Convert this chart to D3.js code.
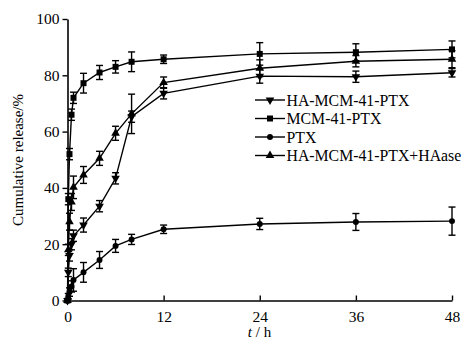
<!DOCTYPE html>
<html><head><meta charset="utf-8">
<script src="https://cdn.jsdelivr.net/npm/d3@7"></script>
<style>body{margin:0;background:#fff}svg{display:block}text{font-family:"Liberation Serif","Times New Roman",serif}</style>
</head><body><svg id="c" width="464" height="341"></svg>
<script>
const times = [0, 0.1, 0.25, 0.5, 0.75, 2, 4, 6, 8, 12, 24, 36, 48];
const seriesNames = ["HA-MCM-41-PTX", "MCM-41-PTX", "PTX", "HA-MCM-41-PTX+HAase"];
const haMcm = [0, 10, 16, 20, 23, 26.8, 33.5, 43.4, 65.3, 73.6, 79.7, 79.5, 80.9];
const haMcmErr = [0, 1.5, 2, 2, 2, 2.5, 2, 2, 2, 2, 2.5, 2, 1.5];
const mcm = [0, 36, 52, 66, 72, 77.2, 81, 83, 84.8, 85.7, 87.6, 88.2, 89.2];
const mcmErr = [0, 2, 2, 2, 2, 3.5, 2.5, 2.2, 3.5, 1.5, 4, 3, 3];
const ptx = [0, 1.5, 3, 5, 7.3, 10, 14.4, 19.4, 21.7, 25.3, 27.2, 27.9, 28.2];
const ptxErr = [0, 1, 1.5, 2, 4, 3.5, 3, 2.3, 1.8, 1.5, 2, 3, 5];
const haase = [0, 18, 28, 35, 40.2, 44.6, 50.5, 59.4, 66.3, 77.4, 82.5, 85, 85.7];
const haaseErr = [0, 2, 3, 3, 4, 3, 2.5, 2.5, 7, 2, 3, 2, 3];
const xTicks = [0, 12, 24, 36, 48];
const yTicks = [0, 20, 40, 60, 80, 100];

const svg = d3.select("#c");
const x = d3.scaleLinear().domain([0, 48]).range([67.5, 452]);
const y = d3.scaleLinear().domain([0, 100]).range([300.5, 19]);

const series = [
  {name: seriesNames[0], v: haMcm, e: haMcmErr, sym: d3.symbolTriangle, rot: 180},
  {name: seriesNames[1], v: mcm, e: mcmErr, sym: d3.symbolSquare, rot: 0},
  {name: seriesNames[2], v: ptx, e: ptxErr, sym: d3.symbolCircle, rot: 0},
  {name: seriesNames[3], v: haase, e: haaseErr, sym: d3.symbolTriangle, rot: 0}
];
const symSize = s => s.sym === d3.symbolCircle ? 28 : (s.sym === d3.symbolSquare ? 36 : 32);

const line = d3.line().x(d => x(d.t)).y(d => y(d.v));
const g = svg.append("g");
series.forEach(s => {
  const pts = times.map((t, i) => ({t, v: s.v[i], e: s.e[i]}));
  g.append("path").attr("d", line(pts)).attr("fill", "none").attr("stroke", "#000").attr("stroke-width", 1.4);
  pts.forEach(p => {
    if (p.e > 0) {
      const x0 = x(p.t), y1 = y(p.v + p.e), y2 = y(p.v - p.e);
      g.append("line").attr("x1", x0).attr("x2", x0).attr("y1", y1).attr("y2", y2).attr("stroke", "#000").attr("stroke-width", 1.4);
      [y1, y2].forEach(yy => g.append("line").attr("x1", x0 - 3.5).attr("x2", x0 + 3.5).attr("y1", yy).attr("y2", yy).attr("stroke", "#000").attr("stroke-width", 1.4));
    }
    g.append("path").attr("d", d3.symbol().type(s.sym).size(symSize(s))())
      .attr("transform", `translate(${x(p.t)},${y(p.v)}) rotate(${s.rot})`).attr("fill", "#000");
  });
});

// axes
const xa = svg.append("g").attr("transform", "translate(0,300.5)")
  .call(d3.axisBottom(x).tickValues(xTicks).tickSize(-5).tickPadding(10).tickSizeOuter(0));
const ya = svg.append("g").attr("transform", "translate(67.5,0)")
  .call(d3.axisLeft(y).tickValues(yTicks).tickSize(5).tickPadding(3).tickSizeOuter(0));
[xa, ya].forEach(a => {
  a.select(".domain").attr("stroke", "#000").attr("stroke-width", 1.6);
  a.selectAll(".tick line").attr("stroke", "#000").attr("stroke-width", 1.4);
  a.selectAll(".tick text").attr("fill", "#000").style("font-size", "15.5px").style("font-family", "'Liberation Serif',serif");
});

svg.append("text").attr("transform", "translate(23,160) rotate(-90)").attr("text-anchor", "middle")
  .style("font-size", "15px").text("Cumulative release/%");
const xl = svg.append("text").attr("x", 259.5).attr("y", 337).attr("text-anchor", "middle").style("font-size", "15px");
xl.append("tspan").style("font-style", "italic").text("t");
xl.append("tspan").text(" / h");

// legend
const leg = svg.append("g");
series.forEach((s, i) => {
  const yy = 100 + i * 18.5;
  leg.append("line").attr("x1", 255).attr("x2", 285).attr("y1", yy).attr("y2", yy).attr("stroke", "#000").attr("stroke-width", 1.4);
  leg.append("path").attr("d", d3.symbol().type(s.sym).size(symSize(s))()).attr("transform", `translate(270,${yy}) rotate(${s.rot})`).attr("fill", "#000");
  leg.append("text").attr("x", 286.5).attr("y", yy + 5.5).style("font-size", "15.8px").text(s.name);
});
</script></body></html>
